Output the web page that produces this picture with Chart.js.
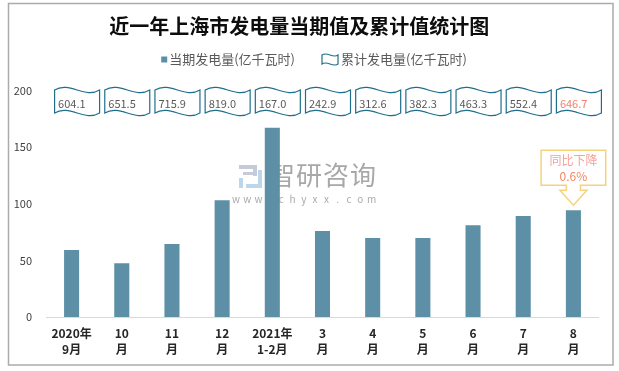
<!DOCTYPE html>
<html>
<head>
<meta charset="utf-8">
<script src="https://cdn.jsdelivr.net/npm/chart.js@4.4.0/dist/chart.umd.min.js"></script>
<style>
  html, body { margin: 0; padding: 0; background: #fff; }
  canvas { display: block; }
</style>
</head>
<body>
<canvas id="chart" width="619" height="371"></canvas>
<script>
/* DATOS */
const categories = [
  ['2020年', '9月'], ['10', '月'], ['11', '月'], ['12', '月'], ['2021年', '1-2月'],
  ['3', '月'], ['4', '月'], ['5', '月'], ['6', '月'], ['7', '月'], ['8', '月']
];
const currentValues = [59.2, 47.4, 64.4, 103.1, 167.0, 75.9, 69.7, 69.7, 81.0, 89.1, 94.3];
const cumulativeValues = [604.1, 651.5, 715.9, 819.0, 167.0, 242.9, 312.6, 382.3, 463.3, 552.4, 646.7];
const yTicks = [0, 50, 100, 150, 200];
const calloutIndex = 10;
const calloutLines = ['同比下降', '0.6%'];

const FONT = '"Noto Sans CJK SC", "Microsoft YaHei", sans-serif';
const BAR_COLOR = '#5d90a7';
const WAVE_COLOR = '#1f6e8c';

Chart.defaults.font.family = FONT;

/* Marco gris y fondo */
const framePlugin = {
  id: 'frame',
  beforeDraw(chart) {
    const ctx = chart.ctx;
    ctx.save();
    ctx.fillStyle = '#fff';
    ctx.fillRect(0, 0, chart.width, chart.height);
    ctx.strokeStyle = '#ababab';
    ctx.lineWidth = 1.5;
    ctx.strokeRect(8.5, 3.5, 604.5, 361.5);
    ctx.restore();
  }
};

/* Forma de onda (caja del acumulado) */
function wavePath(ctx, l, t, w, h, a) {
  const r = l + w, b = t + h;
  ctx.beginPath();
  ctx.moveTo(l, t);
  ctx.bezierCurveTo(l + w / 3, t - a, l + 2 * w / 3, t + a, r, t);
  ctx.lineTo(r, b);
  ctx.bezierCurveTo(l + 2 * w / 3, b + a, l + w / 3, b - a, l, b);
  ctx.closePath();
}

/* Leyenda propia */
const legendPlugin = {
  id: 'customLegend',
  afterDraw(chart) {
    const ctx = chart.ctx;
    const t1 = chart.data.datasets[0].label;
    const t2 = '累计发电量(亿千瓦时)';
    ctx.save();
    ctx.font = '13px ' + FONT;
    const w1 = ctx.measureText(t1).width;
    const w2 = ctx.measureText(t2).width;
    const total = 6 + 2 + w1 + 27 + 18 + 2 + w2;
    const start = 314.5 - total / 2;
    const cy = 59.5;
    ctx.fillStyle = BAR_COLOR;
    ctx.fillRect(start, cy - 3, 6, 6);
    ctx.fillStyle = '#595959';
    ctx.textBaseline = 'middle';
    ctx.textAlign = 'left';
    ctx.fillText(t1, start + 8, cy);
    const x0 = start + 8 + w1 + 27;
    wavePath(ctx, x0, cy - 4.5, 16, 9, 4);
    ctx.fillStyle = '#fff';
    ctx.fill();
    ctx.strokeStyle = WAVE_COLOR;
    ctx.lineWidth = 1.2;
    ctx.stroke();
    ctx.fillStyle = '#595959';
    ctx.fillText(t2, x0 + 19, cy);
    ctx.restore();
  }
};

/* Marca de agua */
const watermarkPlugin = {
  id: 'watermark',
  beforeDatasetsDraw(chart) {
    const ctx = chart.ctx;
    ctx.save();
    ctx.fillStyle = '#c6cbdc';
    ctx.fillRect(239, 165, 18, 4);
    ctx.fillRect(253, 165, 4, 11);
    ctx.fillRect(243, 172, 14, 3);
    ctx.fillStyle = '#bcd7eb';
    ctx.fillRect(239, 178, 4, 10);
    ctx.fillRect(246, 184, 16, 4);
    ctx.fillRect(258, 170, 4, 18);
    ctx.fillStyle = '#a8a8a8';
    ctx.font = '26px ' + FONT;
    ctx.textBaseline = 'middle';
    ctx.textAlign = 'left';
    ctx.letterSpacing = '1px';
    ctx.fillText('智研咨询', 269, 175);
    ctx.letterSpacing = '0px';
    ctx.font = '10px ' + FONT;
    ctx.textAlign = 'center';
    ctx.fillStyle = '#ababab';
    'www.chyxx.com'.split('').forEach((c, i) => {
      ctx.fillText(c, 236 + i * 11.3, 199);
    });
    ctx.restore();
  }
};

/* Cajas onduladas con el acumulado */
const cumulativePlugin = {
  id: 'cumulative',
  afterDatasetsDraw(chart) {
    const ctx = chart.ctx;
    const xs = chart.scales.x;
    const top = chart.chartArea.top - 0.5;
    ctx.save();
    cumulativeValues.forEach((v, i) => {
      const cx = xs.getPixelForValue(i) + 5.5;
      const l = cx - 22.5;
      wavePath(ctx, l, top, 45, 23, 9);
      ctx.fillStyle = '#fff';
      ctx.fill();
      ctx.strokeStyle = WAVE_COLOR;
      ctx.lineWidth = 1.2;
      ctx.stroke();
      ctx.font = '11px ' + FONT;
      ctx.textBaseline = 'middle';
      ctx.textAlign = 'left';
      ctx.fillStyle = i === cumulativeValues.length - 1 ? '#f0826c' : '#595959';
      ctx.fillText(v.toFixed(1), l + 3.5, top + 14);
    });
    ctx.restore();
  }
};

/* Globo de "同比下降" */
const calloutPlugin = {
  id: 'callout',
  afterDatasetsDraw(chart) {
    const ctx = chart.ctx;
    const bar = chart.getDatasetMeta(0).data[calloutIndex];
    const cx = bar.x;
    const tip = bar.y - 5;
    const top = tip - 55, bot = tip - 20, neck = tip - 15;
    const l = cx - 32.3, r = cx + 32.3;
    ctx.save();
    ctx.beginPath();
    ctx.moveTo(l, top);
    ctx.lineTo(r, top);
    ctx.lineTo(r, bot);
    ctx.lineTo(cx + 7, bot);
    ctx.lineTo(cx + 7, neck);
    ctx.lineTo(cx + 13.5, neck);
    ctx.lineTo(cx, tip);
    ctx.lineTo(cx - 13.5, neck);
    ctx.lineTo(cx - 7, neck);
    ctx.lineTo(cx - 7, bot);
    ctx.lineTo(l, bot);
    ctx.closePath();
    ctx.fillStyle = '#fff';
    ctx.fill();
    ctx.strokeStyle = '#f7d27a';
    ctx.lineWidth = 1.5;
    ctx.stroke();
    ctx.font = '12px ' + FONT;
    ctx.textAlign = 'center';
    ctx.textBaseline = 'middle';
    ctx.fillStyle = '#f3a29a';
    ctx.fillText(calloutLines[0], cx, top + 10);
    ctx.fillStyle = '#f0875f';
    ctx.fillText(calloutLines[1], cx, top + 26.5);
    ctx.restore();
  }
};

new Chart(document.getElementById('chart'), {
  type: 'bar',
  data: {
    labels: categories,
    datasets: [
      {
        label: '当期发电量(亿千瓦时)',
        data: currentValues,
        backgroundColor: BAR_COLOR,
        barPercentage: 0.3,
        categoryPercentage: 1.0,
      },
    ],
  },
  options: {
    responsive: false,
    animation: false,
    devicePixelRatio: 1,
    layout: { padding: { left: 0, right: 20.5, top: 0, bottom: 0 } },
    plugins: {
      legend: { display: false },
      tooltip: { enabled: false },
      title: {
        display: true,
        text: '近一年上海市发电量当期值及累计值统计图',
        color: '#0d0d0d',
        font: { size: 20, weight: 'bold' },
        padding: { top: 14, bottom: 52.5 },
      },
    },
    scales: {
      x: {
        grid: { display: false, drawTicks: false },
        border: { display: true, color: '#d9d9d9', width: 1 },
        ticks: {
          color: '#262626',
          font: { size: 12, weight: 'bold', lineHeight: 1.33 },
          padding: 8,
          maxRotation: 0,
          autoSkip: false,
        },
        afterFit(scale) { scale.height = 54; },
      },
      y: {
        min: yTicks[0],
        max: yTicks[yTicks.length - 1],
        grid: { display: false, drawTicks: false },
        border: { display: false },
        ticks: {
          stepSize: yTicks[1] - yTicks[0],
          padding: 14.5,
          color: '#404040',
          font: { size: 11 },
        },
        afterFit(scale) { scale.width = 46.5; },
      },
    },
  },
  plugins: [framePlugin, watermarkPlugin, cumulativePlugin, calloutPlugin, legendPlugin],
});
</script>
</body>
</html>
